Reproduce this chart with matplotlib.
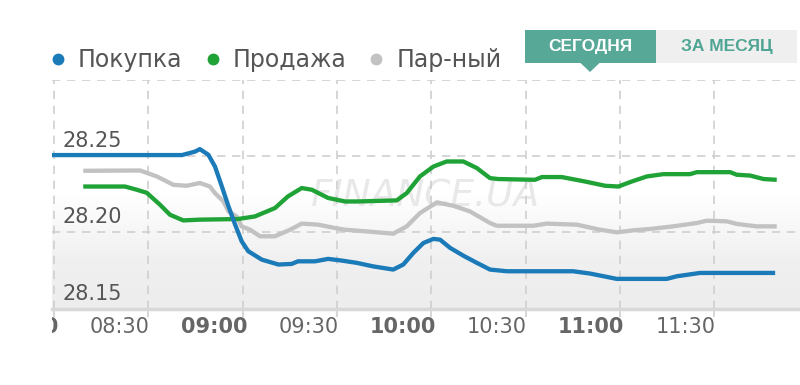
import matplotlib
matplotlib.use('Agg')
import matplotlib.pyplot as plt
import matplotlib.transforms as mtransforms
from matplotlib.patches import Rectangle, Polygon
from matplotlib.lines import Line2D
from matplotlib.colors import LinearSegmentedColormap
import numpy as np

# ---- data (minutes after 08:00, UAH per USD) ----
buy_t = [-1, 40.7, 44.9, 46.4, 49.1, 51.2, 53.4, 55.5, 57.6, 59.7, 61.8, 66.1, 71.4, 75.6, 77.6, 83.0,
         87.2, 91.5, 96.3, 101.5, 107.9, 111.1, 114.3, 117.5, 120.7, 122.8, 126.0, 130.2, 134.5,
         138.7, 144.0, 165.1, 170.5, 179.0, 194.9, 198.1, 205.5, 229.4]
buy_v = [28.2505, 28.2505, 28.2528, 28.2544, 28.2507, 28.2430, 28.2299, 28.2169, 28.2050, 28.1940,
         28.1875, 28.1820, 28.1788, 28.1792, 28.1809, 28.1809, 28.1825, 28.1814, 28.1799, 28.1776,
         28.1755, 28.1788, 28.1864, 28.1929, 28.1956, 28.1951, 28.1897, 28.1846, 28.1799, 28.1755,
         28.1744, 28.1744, 28.1729, 28.1694, 28.1694, 28.1711, 28.1733, 28.1733]

sell_t = [9.3, 22.6, 26.3, 29.5, 33.7, 36.9, 41.1, 46.4, 58.5, 63.9, 70.3, 74.4, 78.8, 82.0, 87.2,
          92.6, 96.3, 109.0, 112.2, 116.4, 120.7, 124.9, 130.2, 134.5, 138.7, 141.3, 153.0, 155.2,
          161.5, 168.9, 175.3, 179.5, 183.8, 188.6, 193.8, 202.3, 204.5, 215.1, 217.2, 221.4, 225.7, 229.9]
sell_v = [28.2299, 28.2299, 28.2278, 28.2258, 28.2180, 28.2114, 28.2077, 28.2082, 28.2086, 28.2103,
          28.2158, 28.2234, 28.2289, 28.2278, 28.2224, 28.2201, 28.2201, 28.2208, 28.2256, 28.2365,
          28.2430, 28.2463, 28.2463, 28.2420, 28.2354, 28.2348, 28.2343, 28.2361, 28.2361, 28.2332,
          28.2304, 28.2299, 28.2332, 28.2365, 28.2380, 28.2380, 28.2393, 28.2393, 28.2376, 28.2371,
          28.2348, 28.2343]

mid_t = [9.3, 27.4, 32.7, 38.0, 42.2, 46.4, 49.6, 51.2, 53.9, 55.5, 58.1, 59.7, 62.4, 65.5, 70.3,
         75.1, 78.8, 84.1, 89.4, 92.6, 99.5, 107.9, 112.2, 116.4, 121.8, 127.0, 132.3, 138.7, 140.8,
         152.5, 156.7, 166.3, 173.7, 179.0, 184.3, 189.6, 196.9, 204.5, 207.6, 214.0, 217.2, 223.5, 229.9]
mid_v = [28.2402, 28.2404, 28.2365, 28.2310, 28.2304, 28.2322, 28.2299, 28.2256, 28.2201, 28.2136,
         28.2103, 28.2038, 28.2016, 28.1973, 28.1973, 28.2016, 28.2056, 28.2049, 28.2027, 28.2016,
         28.2005, 28.1990, 28.2038, 28.2125, 28.2195, 28.2173, 28.2136, 28.2060, 28.2042, 28.2042,
         28.2056, 28.2049, 28.2016, 28.1999, 28.2012, 28.2021, 28.2038, 28.2060, 28.2075, 28.2071,
         28.2054, 28.2038, 28.2038]

series_names = ['Покупка', 'Продажа', 'Пар-ный']
series_colors = ['#1b7ab8', '#1fa236', '#c2c2c2']

tick_minutes = [0, 30, 60, 90, 120, 150, 180, 210]
tick_labels = ['08:00', '08:30', '09:00', '09:30', '10:00', '10:30', '11:00', '11:30']
tick_bold = [True, False, True, False, True, False, True, False]
y_ticks = [28.15, 28.20, 28.25, 28.30]
y_tick_labels = ['28.15', '28.20', '28.25', '']
tab_labels = ['СЕГОДНЯ', 'ЗА МЕСЯЦ']

W, H, DPI = 800, 385, 100
fig = plt.figure(figsize=(W / DPI, H / DPI), dpi=DPI)
fig.patch.set_facecolor('white')


def fx(px):
    return px / W


def fy(py):
    return 1 - py / H


pos = [fx(52), fy(308.5), fx(800) - fx(52), fy(79.5) - fy(308.5)]

# background gradient axes
bg = fig.add_axes(pos, zorder=0)
bg.axis('off')
yy = np.linspace(0, 1, 300)
g = np.clip((0.5 - yy) / 0.3, 0, 1) * 0.85 + np.clip((0.2 - yy) / 0.2, 0, 1) * 0.15
cmap = LinearSegmentedColormap.from_list('bgc', ['#ffffff', '#ededed'])
bg.imshow(g[:, None], aspect='auto', cmap=cmap, vmin=0, vmax=1, origin='lower',
          extent=[0, 1, 0, 1])
bg.set_xlim(0, 1)
bg.set_ylim(0, 1)

ax = fig.add_axes(pos, zorder=1)
ax.set_facecolor('none')

# watermark
ax.text(0.5, 0.49, 'FINANCE.UA', transform=ax.transAxes, ha='center', va='center',
        fontsize=27, style='italic', color='#e8e8e8', zorder=1, family='DejaVu Sans')

for t, v, c, lab in [(mid_t, mid_v, series_colors[2], series_names[2]),
                     (sell_t, sell_v, series_colors[1], series_names[1]),
                     (buy_t, buy_v, series_colors[0], series_names[0])]:
    ax.plot(t, v, color=c, lw=3.1, solid_joinstyle='round', solid_capstyle='butt', label=lab, zorder=3)

ax.set_xlim(-0.64, 237.3)
ax.set_ylim(28.15, 28.30)

ax.grid(True, color='#cfcfcf', linestyle=(0, (5, 4)), linewidth=1.2, zorder=0)
for s in ['top', 'left', 'right']:
    ax.spines[s].set_visible(False)
ax.spines['bottom'].set_color('#d8d8d8')
ax.spines['bottom'].set_linewidth(2.5)

ax.set_xticks(tick_minutes, tick_labels)
ax.tick_params(axis='x', length=6, width=1.2, color='#d0d0d0', pad=0, labelsize=15, labelcolor='#666666')
clip_bb = mtransforms.TransformedBbox(mtransforms.Bbox.from_extents(fx(52), 0, 1, 1), fig.transFigure)
xoff = mtransforms.ScaledTranslation(-28.5 / DPI, 0, fig.dpi_scale_trans)
for lbl, b in zip(ax.get_xticklabels(), tick_bold):
    lbl.set_fontweight('bold' if b else 'normal')
    lbl.set_transform(lbl.get_transform() + xoff)
    lbl.set_clip_box(clip_bb)
    lbl.set_clip_on(True)

ax.set_yticks(y_ticks, y_tick_labels)
ax.tick_params(axis='y', length=0, pad=0, labelsize=15, labelcolor='#555555')
yoff = mtransforms.ScaledTranslation(10 / DPI, 15 / DPI, fig.dpi_scale_trans)
for lbl in ax.get_yticklabels():
    lbl.set_ha('left')
    lbl.set_va('center')
    lbl.set_transform(lbl.get_transform() + yoff)

# legend
handles = [Line2D([], [], marker='o', linestyle='', markersize=7.5, color=c) for c in series_colors]
fig.legend(handles, series_names, loc='center left', bbox_to_anchor=(fx(48.6), fy(60)), ncol=3,
           frameon=False, fontsize=17, labelcolor='#555555', handlelength=0.8, handletextpad=0.45,
           columnspacing=0.87, borderpad=0, borderaxespad=0)

# tabs
fig.add_artist(Rectangle((fx(525), fy(63)), fx(656) - fx(525), fy(30) - fy(63),
                         transform=fig.transFigure, facecolor='#58a898', edgecolor='none'))
fig.add_artist(Polygon([(fx(580), fy(62.5)), (fx(600), fy(62.5)), (fx(590), fy(72))], closed=True,
                       transform=fig.transFigure, facecolor='#58a898', edgecolor='none'))
fig.add_artist(Rectangle((fx(656), fy(63)), fx(797) - fx(656), fy(30) - fy(63),
                         transform=fig.transFigure, facecolor='#efefef', edgecolor='none'))
fig.text(fx(590), fy(46.5), tab_labels[0], ha='center', va='center', color='white',
         fontsize=12.5, fontweight='bold', family='Liberation Sans')
fig.text(fx(727), fy(46.5), tab_labels[1], ha='center', va='center', color='#4fa593',
         fontsize=12.5, fontweight='bold', family='Liberation Sans')

fig.savefig('out.png', dpi=DPI, facecolor='white')
